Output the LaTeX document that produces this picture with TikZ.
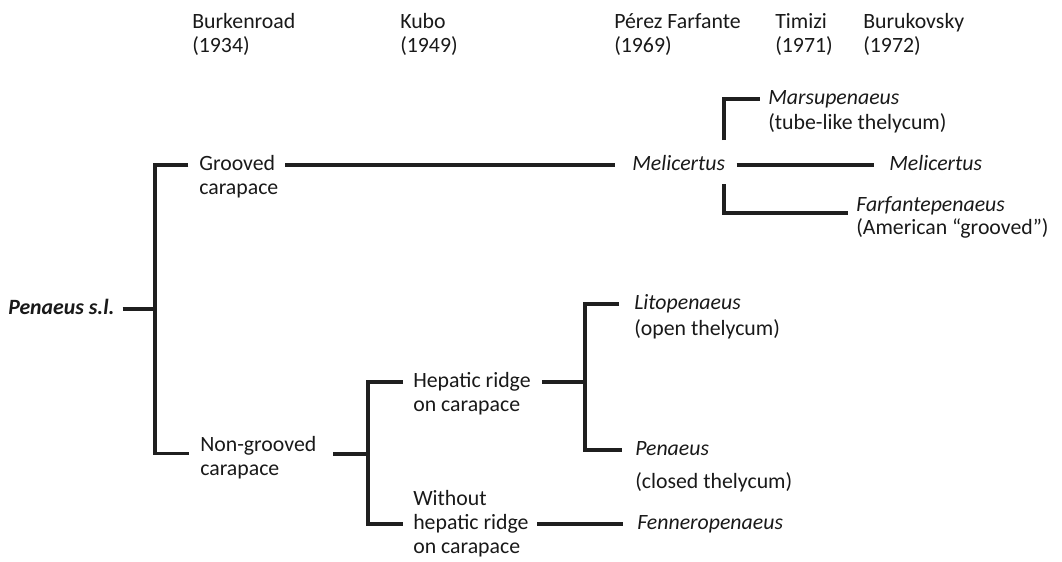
\documentclass[tikz,border=0pt]{standalone}
\usepackage{fontspec}
\setmainfont{Carlito}
\usetikzlibrary{positioning}

\begin{document}
\begin{tikzpicture}[
    x=0.025cm, y=-0.025cm,
    every node/.style={font=\fontsize{15.5}{18}\selectfont, text=black!90},
    lbl/.style={inner sep=0pt, anchor=west, text height=11pt, text depth=3pt},
    taxon/.style={lbl, font=\fontsize{15.5}{18}\selectfont\itshape},
    br/.style={line width=2.4pt, black!88, line join=miter},
]
\useasboundingbox (0,0) rectangle (1062,561);

% authors along the top
\node[lbl] (burk) at (192,23) {Burkenroad};
\node[lbl, below=2.3pt of burk.south west, anchor=north west] (burk2) {(1934)};
\node[lbl] (kubo) at (400,23) {Kubo};
\node[lbl, below=2.3pt of kubo.south west, anchor=north west] (kubo2) {(1949)};
\node[lbl] (perez) at (614,23) {Pérez Farfante};
\node[lbl, below=2.3pt of perez.south west, anchor=north west] (perez2) {(1969)};
\node[lbl] (timizi) at (775,23) {Timizi};
\node[lbl, below=2.3pt of timizi.south west, anchor=north west] (timizi2) {(1971)};
\node[lbl] (buruk) at (863,23) {Burukovsky};
\node[lbl, below=2.3pt of buruk.south west, anchor=north west] (buruk2) {(1972)};

% root
\node[lbl, font=\fontsize{15.5}{18}\selectfont\bfseries\itshape] (root) at (8,309) {Penaeus s.l.};
\coordinate (j0) at (155,309);

% grooved branch
\node[lbl] (groove) at (199,165) {Grooved};
\node[lbl, below=2.3pt of groove.south west, anchor=north west] (groove2) {carapace};
\node[taxon] (mel1) at (632,165) {Melicertus};
\coordinate (jmt) at (724,140);
\coordinate (jmb) at (724,184);
\node[taxon] (mars) at (768,99) {Marsupenaeus};
\node[lbl, below=3.5pt of mars.south west, anchor=north west] (mars2) {(tube-like thelycum)};
\node[taxon] (mel2) at (889,165) {Melicertus};
\node[taxon] (farf) at (856,206) {Farfantepenaeus};
\node[lbl, below=2pt of farf.south west, anchor=north west] (farf2) {(American “grooved”)};

% non-grooved branch
\node[lbl] (nongr) at (200,446) {Non-grooved};
\node[lbl, below=2.3pt of nongr.south west, anchor=north west] (nongr2) {carapace};
\coordinate (jn) at (368,454);
\node[lbl] (hep) at (413,382) {Hepatic ridge};
\node[lbl, below=2.3pt of hep.south west, anchor=north west] (hep2) {on carapace};
\node[lbl] (without) at (413,500) {Without};
\node[lbl, below=2.6pt of without.south west, anchor=north west] (without2) {hepatic ridge};
\node[lbl, below=2.3pt of without2.south west, anchor=north west] (without3) {on carapace};
\coordinate (jl) at (585,382);
\node[taxon] (lito) at (634,304) {Litopenaeus};
\node[lbl, below=4pt of lito.south west, anchor=north west] (lito2) {(open thelycum)};
\node[taxon] (pen) at (635,450) {Penaeus};
\node[lbl, below=9pt of pen.south west, anchor=north west] (pen2) {(closed thelycum)};
\node[taxon, anchor=west] (fenn) at (without2.west -| 637,0) {Fenneropenaeus};

% connectors
\draw[br, shorten <=5.5pt] (root.east) -- (j0);
\draw[br, shorten <=7.5pt, shorten >=7.5pt] (groove.west) -| (j0) |- ([yshift=-5.5pt]nongr.west);
\draw[br, shorten <=7pt, shorten >=12pt] (groove.east) -- (groove.east -| mel1.west);
\draw[br, shorten >=5.5pt] (jmt) |- (mars.west);
\draw[br, shorten >=5.5pt] (jmb) |- ([yshift=-1pt]farf.base west);
\draw[br, shorten <=8pt, shorten >=10.5pt] (mel1.east) -- (mel2.west);
\draw[br, shorten <=12pt] (nongr.east |- jn) -- (jn);
\draw[br, shorten <=7pt, shorten >=7pt] (hep.west) -| (jn) |- (without2.west);
\draw[br, shorten <=8pt] (hep.east) -- (jl);
\draw[br, shorten <=10.5pt, shorten >=9pt] (lito.west) -| (jl) |- (pen.west);
\draw[br, shorten <=6pt, shorten >=10pt] (without2.east) -- (fenn.west);
\end{tikzpicture}
\end{document}
